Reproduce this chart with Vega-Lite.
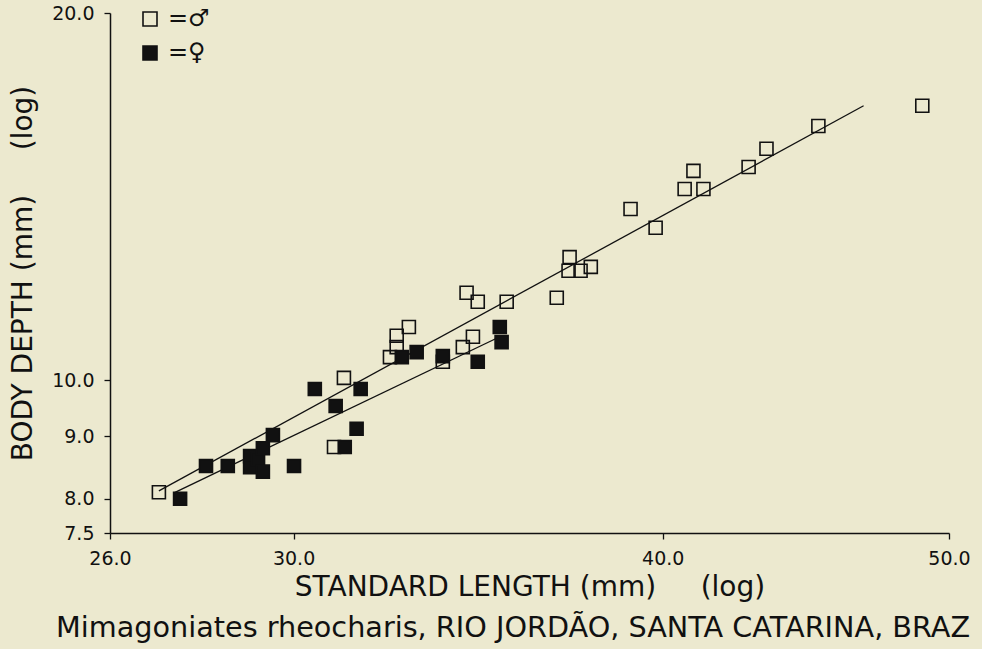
{
  "$schema": "https://vega.github.io/schema/vega-lite/v6.json",
  "width": 839,
  "height": 520,
  "autosize": "none",
  "padding": {"left": 110, "top": 13, "right": 33, "bottom": 116},
  "background": "#ECE9CF",
  "title": {
    "text": "Mimagoniates rheocharis, RIO JORDÃO, SANTA CATARINA, BRAZ",
    "orient": "bottom",
    "anchor": "start",
    "frame": "group",
    "dx": -54,
    "offset": 13,
    "font": "DejaVu Sans",
    "fontSize": 28.7,
    "fontWeight": "normal",
    "color": "#111"
  },
  "config": {
    "view": {"stroke": null},
    "axis": {
      "domainColor": "#111",
      "domainWidth": 1.5,
      "tickColor": "#111",
      "tickWidth": 1.3,
      "tickSize": 6,
      "grid": false,
      "labelFlush": false,
      "labelFont": "DejaVu Sans",
      "labelFontSize": 19,
      "labelColor": "#111",
      "titleFont": "DejaVu Sans",
      "titleFontSize": 28,
      "titleFontWeight": "normal",
      "titleColor": "#111",
      "format": ".1f"
    }
  },
  "datasets": {
    "fish": [
      {"sex": "male", "sl": 27.01, "bd": 8.10},
      {"sex": "male", "sl": 30.96, "bd": 8.82},
      {"sex": "male", "sl": 31.20, "bd": 10.05},
      {"sex": "male", "sl": 32.34, "bd": 10.45},
      {"sex": "male", "sl": 32.51, "bd": 10.65},
      {"sex": "male", "sl": 32.51, "bd": 10.88},
      {"sex": "male", "sl": 32.82, "bd": 11.06},
      {"sex": "male", "sl": 33.70, "bd": 10.36},
      {"sex": "male", "sl": 34.23, "bd": 10.65},
      {"sex": "male", "sl": 34.50, "bd": 10.86},
      {"sex": "male", "sl": 34.33, "bd": 11.80},
      {"sex": "male", "sl": 34.63, "bd": 11.60},
      {"sex": "male", "sl": 35.42, "bd": 11.60},
      {"sex": "male", "sl": 36.83, "bd": 11.69},
      {"sex": "male", "sl": 37.20, "bd": 12.62},
      {"sex": "male", "sl": 37.17, "bd": 12.30},
      {"sex": "male", "sl": 37.52, "bd": 12.30},
      {"sex": "male", "sl": 37.82, "bd": 12.39},
      {"sex": "male", "sl": 39.01, "bd": 13.82},
      {"sex": "male", "sl": 39.78, "bd": 13.34},
      {"sex": "male", "sl": 40.69, "bd": 14.35},
      {"sex": "male", "sl": 40.97, "bd": 14.85},
      {"sex": "male", "sl": 41.29, "bd": 14.35},
      {"sex": "male", "sl": 42.77, "bd": 14.96},
      {"sex": "male", "sl": 43.37, "bd": 15.48},
      {"sex": "male", "sl": 45.16, "bd": 16.16},
      {"sex": "male", "sl": 48.97, "bd": 16.79},
      {"sex": "female", "sl": 27.46, "bd": 8.00},
      {"sex": "female", "sl": 28.02, "bd": 8.51},
      {"sex": "female", "sl": 28.50, "bd": 8.51},
      {"sex": "female", "sl": 29.00, "bd": 8.67},
      {"sex": "female", "sl": 29.00, "bd": 8.49},
      {"sex": "female", "sl": 29.18, "bd": 8.62},
      {"sex": "female", "sl": 29.29, "bd": 8.80},
      {"sex": "female", "sl": 29.29, "bd": 8.42},
      {"sex": "female", "sl": 29.52, "bd": 9.02},
      {"sex": "female", "sl": 30.01, "bd": 8.51},
      {"sex": "female", "sl": 30.50, "bd": 9.84},
      {"sex": "female", "sl": 31.00, "bd": 9.53},
      {"sex": "female", "sl": 31.22, "bd": 8.82},
      {"sex": "female", "sl": 31.51, "bd": 9.13},
      {"sex": "female", "sl": 31.61, "bd": 9.84},
      {"sex": "female", "sl": 32.64, "bd": 10.45},
      {"sex": "female", "sl": 33.02, "bd": 10.55},
      {"sex": "female", "sl": 33.70, "bd": 10.47},
      {"sex": "female", "sl": 34.63, "bd": 10.36},
      {"sex": "female", "sl": 35.23, "bd": 11.06},
      {"sex": "female", "sl": 35.28, "bd": 10.75}
    ],
    "fits": [
      {"fit": "male", "sl": 27.01, "bd": 8.12},
      {"fit": "male", "sl": 46.78, "bd": 16.79},
      {"fit": "female", "sl": 27.33, "bd": 8.09},
      {"fit": "female", "sl": 35.23, "bd": 10.86}
    ]
  },
  "layer": [
    {
      "data": {"name": "fits"},
      "mark": {"type": "line", "color": "#111", "strokeWidth": 1.3},
      "encoding": {
        "x": {
          "field": "sl",
          "type": "quantitative",
          "scale": {"type": "log", "domain": [26, 50], "nice": false, "zero": false},
          "axis": {
            "values": [26, 30, 40, 50],
            "title": "STANDARD LENGTH (mm)\u00a0\u00a0\u00a0\u00a0\u00a0(log)",
            "labelPadding": 10,
            "titlePadding": 5
          }
        },
        "y": {
          "field": "bd",
          "type": "quantitative",
          "scale": {"type": "log", "domain": [7.5, 20], "nice": false, "zero": false},
          "axis": {
            "values": [7.5, 8, 9, 10, 20],
            "title": "BODY DEPTH (mm)\u00a0\u00a0\u00a0\u00a0\u00a0(log)",
            "labelPadding": 10,
            "titlePadding": 14
          }
        },
        "detail": {"field": "fit"}
      }
    },
    {
      "data": {"name": "fish"},
      "mark": {"type": "square", "size": 169, "stroke": "#111", "strokeWidth": 1.6, "opacity": 1},
      "encoding": {
        "x": {"field": "sl", "type": "quantitative"},
        "y": {"field": "bd", "type": "quantitative"},
        "fill": {
          "field": "sex",
          "type": "nominal",
          "scale": {"domain": ["male", "female"], "range": ["transparent", "#111"]},
          "legend": {
            "orient": "none",
            "legendX": 28,
            "legendY": -6,
            "title": null,
            "padding": 0,
            "symbolType": "square",
            "symbolSize": 196,
            "symbolStrokeColor": "#111",
            "symbolStrokeWidth": 1.6,
            "labelFont": "DejaVu Sans",
            "labelFontSize": 24,
            "labelColor": "#111",
            "labelOffset": 6,
            "rowPadding": 10,
            "labelExpr": "datum.value == 'male' ? '=♂' : '=♀'"
          }
        }
      }
    }
  ]
}
